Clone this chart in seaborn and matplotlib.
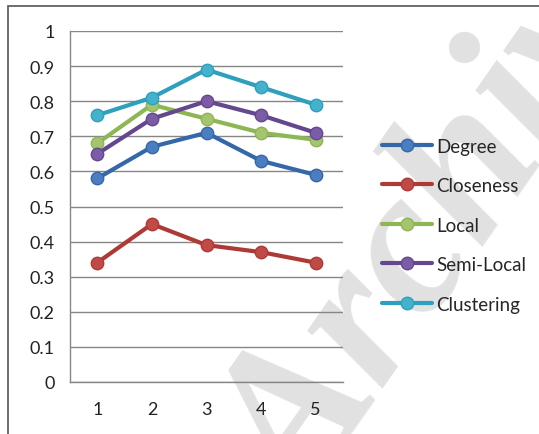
import pandas as pd
import numpy as np
import matplotlib.pyplot as plt
import seaborn as sns
from matplotlib.lines import Line2D
from matplotlib.patches import Rectangle

# data
positions = [1, 2, 3, 4, 5]
series_names = ['Degree', 'Closeness', 'Local', 'Semi-Local', 'Clustering']
degree = [0.58, 0.67, 0.71, 0.63, 0.59]
closeness = [0.34, 0.45, 0.39, 0.37, 0.34]
local = [0.68, 0.79, 0.75, 0.71, 0.69]
semi_local = [0.65, 0.75, 0.80, 0.76, 0.71]
clustering = [0.76, 0.81, 0.89, 0.84, 0.79]

line_colors = ['#3568A8', '#AE3A36', '#8DB654', '#65478F', '#2E9FBD']
marker_colors = ['#4A7EC0', '#C04A46', '#A4C56E', '#7B5CA6', '#45B2CC']

df = pd.DataFrame({
    'x': positions * 5,
    'value': degree + closeness + local + semi_local + clustering,
    'series': sum([[n] * 5 for n in series_names], []),
})

sns.set_style('white')
plt.rcParams['font.family'] = ['Lato', 'DejaVu Sans']

fig = plt.figure(figsize=(5.39, 4.35), dpi=100)
ax = fig.add_axes([70 / 539, 1 - 383 / 435, 273 / 539, 351 / 435])
ax.patch.set_alpha(0)

sns.lineplot(data=df, x='x', y='value', hue='series', hue_order=series_names,
             palette=dict(zip(series_names, line_colors)), linewidth=3,
             legend=False, ax=ax, zorder=3)

for name, mc, lc in zip(series_names, marker_colors, line_colors):
    sub = df[df['series'] == name]
    ax.scatter(sub['x'], sub['value'], s=80, color=mc, edgecolor=lc,
               linewidth=1, zorder=4)

ax.set_xlim(0.5, 5.5)
ax.set_ylim(0, 1)
ax.set_yticks(np.arange(0, 1.01, 0.1))
ax.set_yticklabels(['0'] + [f'{v:.1f}' for v in np.arange(0.1, 0.95, 0.1)] + ['1'])
ax.set_xticks(positions)
ax.set_xticks(np.arange(0.5, 5.6, 1), minor=True)
ax.tick_params(axis='x', which='major', length=0, pad=14, labelsize=13, colors='#222222')
ax.tick_params(axis='x', which='minor', length=5, color='#868686', width=1, direction='out')
ax.tick_params(axis='y', length=5, color='#868686', width=1, direction='out',
               labelsize=13, colors='#222222', pad=6)
ax.grid(axis='y', color='#868686', linewidth=1)
ax.set_axisbelow(True)
for side in ['top', 'right']:
    ax.spines[side].set_visible(False)
for side in ['left', 'bottom']:
    ax.spines[side].set_color('#868686')
    ax.spines[side].set_linewidth(1)
ax.set_xlabel('')
ax.set_ylabel('')

handles = [Line2D([0], [0], color=lc, linewidth=3, marker='o', markersize=9,
                  markerfacecolor=mc, markeredgecolor=lc)
           for lc, mc in zip(line_colors, marker_colors)]
fig.legend(handles, series_names, loc='upper left',
           bbox_to_anchor=(374 / 539, 1 - 131 / 435), frameon=False,
           fontsize=13.5, handlelength=2.7, handletextpad=0.2, labelspacing=1.2,
           borderaxespad=0)

# chart frame
fig.add_artist(Rectangle((8 / 539, -0.05), 1.2, 1 - 7 / 435 + 0.05,
                         transform=fig.transFigure, fill=False,
                         edgecolor='#555555', linewidth=1.2))

# watermark
fig.text(0.35, -0.24, 'Archive', fontsize=150, family='Liberation Serif',
         style='italic', weight='bold', color='#dadada', alpha=0.8,
         rotation=55, ha='left', va='bottom', zorder=-1)

fig.savefig('out.png', dpi=100)
